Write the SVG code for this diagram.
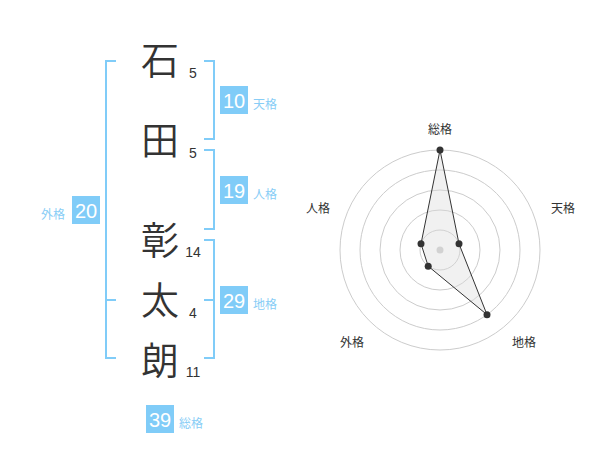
<svg xmlns="http://www.w3.org/2000/svg" width="600" height="470" viewBox="0 0 600 470">
<style>
.kanji{font-family:"Noto Sans CJK JP","Noto Sans CJK SC",sans-serif;font-size:38px;font-weight:350;fill:#333;text-anchor:middle}
.stroke{font-family:"Liberation Sans",Arial,sans-serif;font-size:14px;fill:#333;text-anchor:middle}
.br{fill:none;stroke:#80ccf8;stroke-width:2}
.box{fill:#80ccf8}
.bnum{font-family:"Liberation Sans",Arial,sans-serif;font-size:20px;fill:#fff;text-anchor:middle}
.blab{font-family:"Noto Sans CJK JP","Noto Sans CJK SC",sans-serif;font-size:12px;fill:#88cdf6}
.ring{fill:none;stroke:#ccc;stroke-width:1}
.rlab{font-family:"Noto Sans CJK JP","Noto Sans CJK SC",sans-serif;font-size:12px;fill:#333;text-anchor:middle}
.dot{fill:#333}
</style>
<rect width="600" height="470" fill="#fff"/>
<g id="connectors">
<path class="br" d="M116,61 H106 V358 H116 M106,300 H116"/>
<path class="br" d="M204,61 H214 V139 H204"/>
<path class="br" d="M204,150 H214 V229 H204"/>
<path class="br" d="M204,240 H214 V358 H204 M214,300 H204"/>
</g>
<g id="char-1"><text class="kanji" x="160" y="74">石</text><text class="stroke" x="193" y="78">5</text></g>
<g id="char-2"><text class="kanji" x="160" y="154">田</text><text class="stroke" x="193" y="158">5</text></g>
<g id="char-3"><text class="kanji" x="160" y="254">彰</text><text class="stroke" x="193" y="257">14</text></g>
<g id="char-4"><text class="kanji" x="160" y="314">太</text><text class="stroke" x="193" y="318">4</text></g>
<g id="char-5"><text class="kanji" x="160" y="374">朗</text><text class="stroke" x="193" y="377">11</text></g>
<g id="tenkaku"><rect class="box" x="220" y="86" width="28" height="28"/><text class="bnum" x="234" y="108">10</text><text class="blab" x="253" y="109">天格</text></g>
<g id="jinkaku"><rect class="box" x="220" y="176" width="28" height="28"/><text class="bnum" x="234" y="198">19</text><text class="blab" x="253" y="199">人格</text></g>
<g id="chikaku"><rect class="box" x="220" y="286" width="28" height="28"/><text class="bnum" x="234" y="308">29</text><text class="blab" x="253" y="309">地格</text></g>
<g id="gaikaku"><rect class="box" x="72" y="196" width="28" height="28"/><text class="bnum" x="86" y="218">20</text><text class="blab" x="41" y="219">外格</text></g>
<g id="soukaku"><rect class="box" x="146" y="405" width="28" height="28"/><text class="bnum" x="160" y="427">39</text><text class="blab" x="179" y="428">総格</text></g>
<g id="radar">
<circle class="ring" cx="440" cy="250" r="20"/>
<circle class="ring" cx="440" cy="250" r="40"/>
<circle class="ring" cx="440" cy="250" r="60"/>
<circle class="ring" cx="440" cy="250" r="80"/>
<circle class="ring" cx="440" cy="250" r="100"/>
<circle cx="440" cy="250" r="3.5" fill="#ccc"/>
<polygon points="440,150 459,243.8 487,314.7 428.2,266.2 421,243.8" fill="#ddd" fill-opacity="0.4" stroke="#333" stroke-width="1"/>
<circle class="dot" cx="440" cy="150" r="3.5"/>
<circle class="dot" cx="459" cy="243.8" r="3.5"/>
<circle class="dot" cx="487" cy="314.7" r="3.5"/>
<circle class="dot" cx="428.2" cy="266.2" r="3.5"/>
<circle class="dot" cx="421" cy="243.8" r="3.5"/>
<text class="rlab" x="440" y="134">総格</text>
<text class="rlab" x="563" y="213">天格</text>
<text class="rlab" x="524" y="347">地格</text>
<text class="rlab" x="352" y="347">外格</text>
<text class="rlab" x="318" y="213">人格</text>
</g>
</svg>
